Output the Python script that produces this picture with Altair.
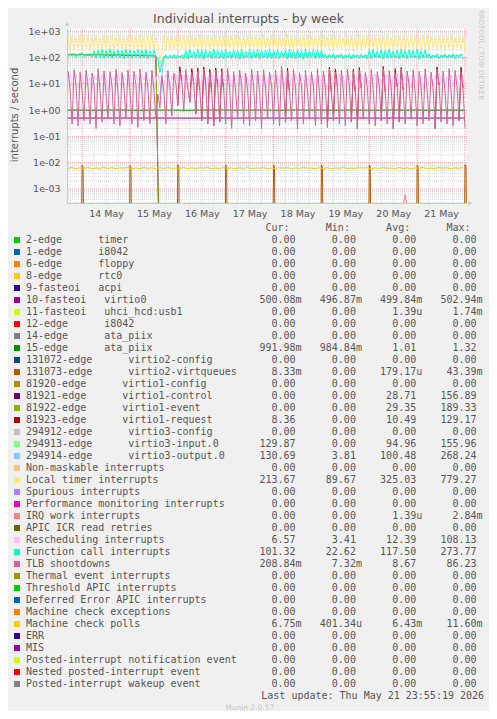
import re
import altair as alt
import pandas as pd

# ------------------------------------------------------------------ data
START = "2026-05-13 17:00"   # first hourly sample; index 46 = reboot (15 May 15:00)

# hourly series, 200 samples (13 May 17:00 .. 22 May 00:00)
local_timer = [
    620, 210, 680, 190, 590, 230, 700,
    200, 650, 220, 710, 185, 600, 240, 690, 210, 560, 195, 720, 230, 640, 205, 680, 190, 610, 250, 700, 215, 580, 200, 660,
    225, 690, 190, 620, 235, 740, 205, 600, 180, 670, 220, 710, 195, 590, 400, 90, 150, 700, 185, 630, 225, 680, 200, 610,
    230, 660, 205, 720, 190, 640, 215, 690, 240, 600, 200, 750, 185, 620, 225, 680, 210, 590, 245, 700, 195, 640, 220, 670,
    205, 610, 235, 690, 190, 730, 215, 650, 200, 600, 240, 680, 185, 710, 225, 620, 210, 660, 195, 740, 230, 590, 205, 700,
    220, 640, 190, 700, 235, 610, 205, 760, 215, 630, 180, 690, 245, 600, 210, 670, 195, 720, 225, 650, 200, 610, 240, 680,
    195, 720, 230, 600, 210, 690, 185, 640, 225, 710, 200, 580, 240, 660, 215, 700, 190, 630, 220, 750, 205, 620, 235, 670,
    210, 650, 240, 700, 195, 610, 225, 680, 185, 730, 215, 600, 200, 690, 235, 640, 210, 710, 190, 620, 245, 660, 205, 700,
    230, 600, 200, 680, 215, 720, 190, 640, 240, 610, 205, 700, 220, 660, 185, 630, 225, 740, 210, 590, 235, 680, 200, 650,
    214,
]
function_call = [
    108, 145, 112, 150, 104, 138, 110,
    152, 106, 140, 114, 148, 102, 180, 95, 195, 100, 205, 92, 188, 98, 210, 94, 185, 103, 200, 96, 192, 90, 206, 99,
    198, 93, 186, 101, 208, 95, 190, 97, 202, 91, 184, 104, 196, 99, 100, 27, 60, 95, 128, 92, 125, 98, 132, 90,
    122, 96, 130, 93, 185, 88, 200, 101, 176, 94, 205, 97, 190, 86, 198, 103, 182, 92, 210, 99, 188, 95, 196, 90,
    204, 98, 180, 93, 195, 101, 188, 87, 207, 96, 175, 104, 199, 92, 190, 97, 203, 89, 185, 100, 196, 94, 208, 91,
    187, 99, 201, 95, 178, 102, 194, 88, 209, 97, 183, 93, 198, 100, 190, 86, 205, 96, 181, 103, 197, 92, 200, 95,
    185, 98, 140, 92, 132, 96, 145, 90, 128, 99, 138, 94, 130, 97, 143, 91, 135, 100, 127, 93, 141, 96, 133, 89,
    195, 94, 206, 101, 183, 97, 200, 90, 188, 103, 210, 95, 179, 99, 197, 92, 204, 98, 186, 93, 199, 100, 191, 96,
    207, 89, 184, 102, 195, 97, 136, 94, 130, 99, 142, 92, 127, 98, 138, 95, 133, 100, 140, 91, 129, 97, 135, 93,
    101,
]
tlb_shootdowns = [
    30, 6, 0.3, 35, 8, 0.25, 28,
    5, 0.4, 33, 7, 0.3, 26, 9, 0.2, 38, 6, 0.35, 31, 4, 0.5, 29, 8, 0.3, 36, 5, 0.25, 27, 7, 0.45, 34,
    6, 0.3, 30, 9, 0.22, 37, 5, 0.4, 28, 7, 0.3, 33, 6, 0.5, 4, 1.2, 20, 5, 0.3, 32, 8, 0.6, 26, 10,
    1.5, 30, 12, 0.9, 35, 7, 2, 28, 10, 0.7, 31, 6, 0.4, 36, 9, 0.3, 27, 5, 0.25, 33, 8, 0.35, 30, 6,
    0.3, 38, 7, 0.2, 29, 5, 0.45, 34, 9, 0.3, 26, 6, 0.25, 37, 8, 0.4, 31, 5, 0.2, 35, 7, 0.5, 28, 9,
    0.3, 33, 6, 0.25, 48, 8, 0.35, 30, 5, 0.4, 36, 7, 0.2, 27, 9, 0.3, 34, 6, 0.45, 29, 8, 0.25, 38, 5,
    0.3, 31, 7, 0.22, 36, 5, 0.4, 28, 8, 0.3, 33, 6, 0.25, 37, 9, 0.35, 30, 5, 0.2, 34, 7, 0.45, 27, 8,
    0.3, 35, 6, 0.25, 29, 9, 0.4, 38, 5, 0.3, 32, 7, 0.2, 26, 8, 0.35, 36, 6, 0.3, 31, 9, 0.45, 34, 5,
    0.25, 30, 8, 0.3, 37, 6, 0.4, 28, 7, 0.2, 35, 9, 0.35, 31, 5, 0.3, 38, 6, 0.25, 33, 8, 0.4, 29, 7,
    0.21,
]
rescheduling = [
    12, 22, 8, 18, 25, 7, 15,
    20, 9, 24, 11, 17, 6, 21, 14, 19, 8, 23, 10, 16, 5, 22, 13, 18, 9, 25, 12, 7, 20, 15, 10,
    24, 8, 17, 22, 11, 6, 19, 14, 23, 9, 16, 21, 7, 13, 25, 10, 18, 8, 22, 15, 6, 20, 12, 24,
    9, 17, 11, 23, 7, 19, 14, 21, 10, 16, 25, 8, 13, 22, 6, 18, 11, 24, 9, 15, 20, 7, 23, 12,
    17, 10, 21, 8, 19, 14, 22, 9, 16, 25, 11, 18, 7, 20, 13, 24, 10, 17, 12, 21, 6, 19, 9, 23,
    14, 8, 20, 11, 25, 7, 16, 22, 10, 18, 6, 24, 13, 9, 21, 15, 8, 19, 12, 23, 7, 17, 11, 20,
    9, 24, 14, 6, 18, 21, 10, 16, 8, 25, 12, 19, 7, 22, 15, 9, 20, 11, 17, 6, 23, 13, 10, 18,
    8, 21, 15, 24, 7, 17, 12, 20, 9, 23, 14, 6, 19, 11, 25, 10, 16, 8, 22, 13, 18, 7, 24, 12,
    15, 9, 20, 6, 23, 11, 18, 14, 8, 21, 10, 25, 12, 17, 7, 19, 13, 22, 9, 16, 11, 24, 8, 18,
    6.57,
]

# 2-hourly series from START
machine_check_polls = [
    0.0061, 0.0066, 0.0059, 0.0064, 0.0060, 0.0067, 0.0058, 0.0063, 0.0061, 0.0066,
    0.0060, 0.0065, 0.0059, 0.0064, 0.0062, 0.0067, 0.0058, 0.0063, 0.0060, 0.0066,
    0.0061, 0.0064, 0.0059, 0.0065, 0.0060, 0.0067, 0.0058, 0.0063, 0.0061, 0.0066,
    0.0059, 0.0064, 0.0060, 0.0065, 0.0062, 0.0067, 0.0058, 0.0064, 0.0060, 0.0066,
    0.0061, 0.0063, 0.0059, 0.0065, 0.0060, 0.0067, 0.0058, 0.0064, 0.0061, 0.0066,
    0.0059, 0.0063, 0.0060, 0.0065, 0.0062, 0.0066, 0.0058, 0.0064, 0.0060, 0.0067,
    0.0061, 0.0063, 0.0059, 0.0065, 0.0060, 0.0066, 0.0058, 0.0064, 0.0061, 0.0067,
    0.0059, 0.0063, 0.0060, 0.0066, 0.0062, 0.0065, 0.0058, 0.0064, 0.0060, 0.0067,
    0.0061, 0.0063, 0.0059, 0.0066, 0.0060, 0.0065, 0.0058, 0.0064, 0.0061, 0.0067,
    0.0059, 0.0063, 0.0060, 0.0066, 0.0062, 0.0065, 0.0058, 0.0064, 0.0061, 0.00675,
]
# before the reboot (every 2 h from START, last value at the reboot hour)
virtio1_control = [128, 131, 126, 133, 129, 124, 130, 127, 132, 125, 128, 122,
                   126, 129, 121, 124, 120, 123, 118, 121, 117, 119, 115, 0]
virtio1_event = [132, 135, 130, 137, 133, 128, 134, 131, 136, 129, 132, 126,
                 130, 133, 125, 128, 124, 127, 122, 125, 121, 123, 119, 0]
# after the reboot (every 2 h from the reboot hour)
virtio3_input = [
    60, 105, 98, 112, 120, 101, 95, 118, 108, 125, 99, 113, 104, 121, 97, 110, 116, 102, 123, 96,
    109, 119, 100, 114, 106, 124, 98, 111, 117, 103, 95, 120, 107, 122, 101, 112, 99, 115, 126, 104,
    97, 118, 110, 121, 100, 113, 96, 119, 105, 124, 102, 116, 98, 111, 123, 107, 94, 117, 109, 120,
    103, 114, 99, 125, 106, 112, 97, 121, 108, 118, 101, 115, 104, 122, 110, 127, 130,
]
virtio3_output = [
    3.8, 112, 104, 96, 118, 109, 122, 100, 115, 98, 126, 107, 119, 103, 111, 97, 124, 106, 113, 101,
    120, 95, 117, 108, 125, 99, 114, 105, 121, 97, 110, 123, 102, 116, 96, 119, 107, 127, 100, 113,
    104, 122, 98, 115, 109, 126, 101, 118, 95, 112, 120, 103, 124, 99, 114, 106, 121, 97, 117, 110,
    102, 125, 96, 113, 108, 119, 100, 123, 105, 116, 98, 121, 111, 103, 126, 115, 131,
]
# 6-hourly from START, plus the last sample
ata_piix_15 = [1.00, 1.01, 0.99, 1.00, 1.02, 1.00, 0.99, 1.01, 1.01, 1.00, 0.99, 1.01,
               1.00, 1.02, 0.99, 1.00, 1.01, 1.00, 0.99, 1.02, 1.00, 1.01, 0.99, 1.00,
               1.01, 1.00, 0.99, 1.02, 1.00, 1.01, 0.99, 1.00, 1.01, 1.00, 0.99]
virtio0_10 = [0.500, 0.501, 0.499, 0.500, 0.502, 0.500, 0.499, 0.501, 0.500, 0.500, 0.498, 0.501,
              0.500, 0.502, 0.499, 0.500, 0.501, 0.500, 0.499, 0.502, 0.500, 0.501, 0.499, 0.500,
              0.501, 0.500, 0.499, 0.502, 0.500, 0.501, 0.499, 0.500, 0.501, 0.500, 0.500]
# virtio1-request: visible peaks above the TLB strokes (hour index, value)
red_peak_hours = [56, 62, 65, 68, 71, 74, 77, 110, 131, 134, 143, 146, 158, 164, 167, 185, 197]
red_peak_values = [45, 38, 40, 44, 36, 40, 38, 40, 44, 37, 36, 42, 46, 38, 42, 44, 43]
# virtio2-virtqueues: daily spikes at midnight
virtq_days = ["2026-05-14", "2026-05-15", "2026-05-16", "2026-05-17", "2026-05-18",
              "2026-05-19", "2026-05-20", "2026-05-21", "2026-05-22"]
virtq_peak = [0.0080, 0.0078, 0.0082, 0.0080, 0.0079, 0.0081, 0.0080, 0.0078, 0.0083]
virtq_next = [0.0070, 0.0068, 0.0072, 0.0071, 0.0069, 0.0070, 0.0072, 0.0069, 0.0070]
# IRQ work spike and uhci spike
irq_work_times = ["2026-05-20 17:00", "2026-05-20 18:00", "2026-05-20 19:00"]
irq_work_values = [0.00022, 0.0006, 0.00022]
usb_times = ["2026-05-15 14:00", "2026-05-15 14:30", "2026-05-15 15:00"]
usb_values = [0, 0.0011, 0]

# legend
legend_labels = [
    "2-edge      timer", "1-edge      i8042", "6-edge      floppy", "8-edge      rtc0",
    "9-fasteoi   acpi", "10-fasteoi   virtio0", "11-fasteoi   uhci_hcd:usb1",
    "12-edge      i8042", "14-edge      ata_piix", "15-edge      ata_piix",
    "131072-edge      virtio2-config", "131073-edge      virtio2-virtqueues",
    "81920-edge      virtio1-config", "81921-edge      virtio1-control",
    "81922-edge      virtio1-event", "81923-edge      virtio1-request",
    "294912-edge      virtio3-config", "294913-edge      virtio3-input.0",
    "294914-edge      virtio3-output.0", "Non-maskable interrupts", "Local timer interrupts",
    "Spurious interrupts", "Performance monitoring interrupts", "IRQ work interrupts",
    "APIC ICR read retries", "Rescheduling interrupts", "Function call interrupts",
    "TLB shootdowns", "Thermal event interrupts", "Threshold APIC interrupts",
    "Deferred Error APIC interrupts", "Machine check exceptions", "Machine check polls",
    "ERR", "MIS", "Posted-interrupt notification event", "Nested posted-interrupt event",
    "Posted-interrupt wakeup event",
]
legend_colors = [
    "#00CC00", "#0066B3", "#FF8000", "#FFCC00", "#330099", "#990099", "#CCFF00", "#FF0000",
    "#808080", "#008F00", "#00487D", "#B35A00", "#B38F00", "#6B006B", "#8FB300", "#B30000",
    "#BEBEBE", "#80FF80", "#80C9FF", "#FFC080", "#FFE680", "#AA80FF", "#EE00CC", "#FF8080",
    "#666600", "#FFBFFF", "#00FFCC", "#CC6699", "#999900", "#00CC00", "#0066B3", "#FF8000",
    "#FFCC00", "#330099", "#990099", "#CCFF00", "#FF0000", "#808080",
]
Z = "0.00"
cur_vals = [Z, Z, Z, Z, Z, "500.08m", Z, Z, Z, "991.98m", Z, "8.33m", Z, Z, Z, "8.36", Z,
            "129.87", "130.69", Z, "213.67", Z, Z, Z, Z, "6.57", "101.32", "208.84m", Z, Z, Z,
            Z, "6.75m", Z, Z, Z, Z, Z]
min_vals = [Z, Z, Z, Z, Z, "496.87m", Z, Z, Z, "984.84m", Z, Z, Z, Z, Z, Z, Z,
            Z, "3.81", Z, "89.67", Z, Z, Z, Z, "3.41", "22.62", "7.32m", Z, Z, Z,
            Z, "401.34u", Z, Z, Z, Z, Z]
avg_vals = [Z, Z, Z, Z, Z, "499.84m", "1.39u", Z, Z, "1.01", Z, "179.17u", Z, "28.71", "29.35",
            "10.49", Z, "94.96", "100.48", Z, "325.03", Z, Z, "1.39u", Z, "12.39", "117.50",
            "8.67", Z, Z, Z, Z, "6.43m", Z, Z, Z, Z, Z]
max_vals = [Z, Z, Z, Z, Z, "502.94m", "1.74m", Z, Z, "1.32", Z, "43.39m", Z, "156.89", "189.33",
            "129.17", Z, "155.96", "268.24", Z, "779.27", Z, Z, "2.84m", Z, "108.13", "273.77",
            "86.23", Z, Z, Z, Z, "11.60m", Z, Z, Z, Z, Z]

TITLE = "Individual interrupts - by week"
Y_TITLE = "interrupts / second"
SIDE = "RRDTOOL / TOBI OETIKER"
LAST_UPDATE = "Last update: Thu May 21 23:55:19 2026"
FOOTER = "Munin 2.0.57"

# ------------------------------------------------------------------ frames
hours = pd.date_range(START, periods=200, freq="h")
FLOOR = 1e-7   # zero is drawn below the log axis (clipped)


def frame(times, vals):
    return pd.DataFrame({"t": list(times), "v": [v if v > 0 else FLOOR for v in vals]})


def idx_frame(idx, vals):
    return frame([hours[i] for i in idx], vals)


df_timer = idx_frame(range(200), local_timer)
df_func = idx_frame(range(200), function_call)
df_tlb = idx_frame(range(200), tlb_shootdowns)
df_resched = idx_frame(range(200), rescheduling)
df_mcp = idx_frame(range(0, 200, 2), machine_check_polls)
pre_idx = list(range(0, 46, 2)) + [46]
df_v1c = idx_frame(pre_idx, virtio1_control)
df_v1e = idx_frame(pre_idx, virtio1_event)
df_v3i = idx_frame(range(46, 200, 2), virtio3_input)
df_v3o = idx_frame(range(46, 200, 2), virtio3_output)
six_idx = list(range(0, 200, 6)) + [199]
df_ata = idx_frame(six_idx, ata_piix_15)
df_v0 = idx_frame(six_idx, virtio0_10)

red_rows = []
for k, (h, v) in enumerate(zip(red_peak_hours, red_peak_values)):
    for hh, vv in ((h - 1, tlb_shootdowns[h - 1]), (h, v), (h + 1, tlb_shootdowns[h + 1])):
        red_rows.append({"t": hours[hh], "v": vv, "seg": k})
df_red = pd.DataFrame(red_rows)

vq_t, vq_v = [], []
for d, a, b in zip(virtq_days, virtq_peak, virtq_next):
    d0 = pd.Timestamp(d)
    vq_t += [d0 - pd.Timedelta("30min"), d0, d0 + pd.Timedelta("30min"), d0 + pd.Timedelta("60min")]
    vq_v += [0, a, b, 0]
df_vq = frame(vq_t, vq_v)
df_irq = frame(pd.to_datetime(irq_work_times), irq_work_values)
df_usb = frame(pd.to_datetime(usb_times), usb_values)

# ------------------------------------------------------------------ scales
X0 = alt.DateTime(year=2026, month=5, date=13, hours=16, minutes=26)
X1 = alt.DateTime(year=2026, month=5, date=22, hours=1)
xs = alt.Scale(domain=[X0, X1], nice=False)
YMIN, YMAX = 2.91e-4, 1346
ys = alt.Scale(type="log", domain=[YMIN, YMAX], nice=False)

AXIS_C = "#c4c4e8"
TXT = "#555555"
MINOR = "#d8d8d8"
MAJOR = "#f2a8a8"


def line(df, color, detail=None):
    enc = dict(x=alt.X("t:T", scale=xs, axis=None), y=alt.Y("v:Q", scale=ys, axis=None))
    if detail:
        enc["detail"] = alt.Detail(detail)
    return alt.Chart(df).mark_line(color=color, strokeWidth=1, clip=True).encode(**enc)


# grid
y_minor = [k * 10.0 ** d for d in range(-4, 4) for k in range(2, 10) if YMIN <= k * 10.0 ** d <= YMAX]
y_major = [10.0 ** d for d in range(-3, 4)]
x_all = pd.date_range("2026-05-13 18:00", "2026-05-22 00:00", freq="6h")
x_major = [t for t in x_all if t.hour == 0]
x_minor = [t for t in x_all if t.hour != 0]
x_labels = [alt.DateTime(year=2026, month=5, date=d, hours=12) for d in range(14, 22)]

grid_y_minor = alt.Chart(pd.DataFrame({"v": y_minor})).mark_rule(
    color=MINOR, strokeDash=[1, 1], strokeWidth=1).encode(y=alt.Y("v:Q", scale=ys, axis=None))
grid_x_minor = alt.Chart(pd.DataFrame({"t": x_minor})).mark_rule(
    color=MINOR, strokeDash=[1, 1], strokeWidth=1).encode(x=alt.X("t:T", scale=xs, axis=None))
grid_y_major = alt.Chart(pd.DataFrame({"v": y_major})).mark_rule(
    color=MAJOR, strokeDash=[1, 1], strokeWidth=1).encode(
    y=alt.Y("v:Q", scale=ys, axis=alt.Axis(
        values=y_major, title=None, grid=False, ticks=False, domain=True, domainColor=AXIS_C,
        labelExpr="(datum.value >= 1 ? '1e+0' : '1e-0') + round(abs(log(datum.value) / LN10))",
        labelFont="DejaVu Sans", labelFontSize=9.5, labelColor=TXT, labelPadding=7)))
grid_x_major = alt.Chart(pd.DataFrame({"t": x_major})).mark_rule(
    color=MAJOR, strokeDash=[1, 1], strokeWidth=1).encode(
    x=alt.X("t:T", scale=xs, axis=alt.Axis(
        values=x_labels, format="%d %b", title=None, grid=False, ticks=False, domain=True,
        domainColor=AXIS_C, labelFont="DejaVu Sans", labelFontSize=9.5, labelColor=TXT,
        labelPadding=5, labelAngle=0)))

series_layers = [
    line(df_v0, "#990099"),
    line(df_usb, "#CCFF00"),
    line(df_ata, "#008F00"),
    line(df_vq, "#B35A00"),
    line(df_v1c, "#6B006B"),
    line(df_v1e, "#8FB300"),
    line(df_red, "#B30000", detail="seg:N"),
    line(df_v3i, "#80FF80"),
    line(df_v3o, "#80C9FF"),
    line(df_timer, "#FFE680"),
    line(df_irq, "#FF8080"),
    line(df_resched, "#FFBFFF"),
    line(df_func, "#00FFCC"),
    line(df_tlb, "#CC6699"),
    line(df_mcp, "#FFCC00"),
]

# ------------------------------------------------------------------ legend table
PL, PT = 67, 28            # page position of the plot origin
ADV = 6.02                 # monospace advance
COL0 = [259.5, 319.8, 380.1, 440.4]
rows = []
for i, lab in enumerate(legend_labels):
    m = re.search(r"\s{2,}", lab)
    if m:
        n1, n2, off = lab[:m.start()], lab[m.end():], m.end()
    else:
        n1, n2, off = lab, "", 0
    r = {"ly": 240 - PT + 12 * i, "n1": n1, "n2": n2, "n2x": 26 - PL + ADV * off,
         "color": legend_colors[i]}
    for c, (key, vals) in enumerate((("cur", cur_vals), ("mn", min_vals), ("avg", avg_vals), ("mx", max_vals))):
        s = vals[i]
        r[key] = s
        r[key + "x"] = COL0[c] - PL + (7 if s[-1].isalpha() else 6) * ADV
    rows.append(r)
leg = pd.DataFrame(rows)
MONO = "DejaVu Sans Mono"

ly = alt.Y("ly:Q", scale=None, axis=None)
legend_layers = [
    alt.Chart(leg).mark_square(size=36, opacity=1).encode(
        x=alt.value(17 - PL), y=ly, color=alt.Color("color:N", scale=None)),
    alt.Chart(leg).mark_text(align="left", baseline="middle", font=MONO, fontSize=10, color=TXT).encode(
        x=alt.value(26 - PL), y=ly, text="n1:N"),
    alt.Chart(leg).mark_text(align="left", baseline="middle", font=MONO, fontSize=10, color=TXT).encode(
        x=alt.X("n2x:Q", scale=None, axis=None), y=ly, text="n2:N"),
]
for key in ("cur", "mn", "avg", "mx"):
    legend_layers.append(
        alt.Chart(leg).mark_text(align="right", baseline="middle", font=MONO, fontSize=10, color=TXT).encode(
            x=alt.X(key + "x:Q", scale=None, axis=None), y=ly, text=key + ":N"))

head = pd.DataFrame({"h": ["Cur:", "Min:", "Avg:", "Max:"],
                     "hx": [c + ADV - PL for c in COL0], "hy": [228 - PT] * 4})
legend_layers.append(
    alt.Chart(head).mark_text(align="left", baseline="middle", font=MONO, fontSize=10, color=TXT).encode(
        x=alt.X("hx:Q", scale=None, axis=None), y=alt.Y("hy:Q", scale=None, axis=None), text="h:N"))


def label(txt, x, y, **kw):
    return alt.Chart(pd.DataFrame({"s": [txt]})).mark_text(**kw).encode(
        x=alt.value(x), y=alt.value(y), text="s:N")


misc = [
    label(TITLE, 248.5 - PL, 19 - PT, font="DejaVu Sans", fontSize=12.5, color=TXT,
          align="center", baseline="middle"),
    label(Y_TITLE, 14.5 - PL, 115 - PT, font="DejaVu Sans", fontSize=10, color=TXT, angle=270,
          align="center", baseline="middle"),
    label(SIDE, 481 - PL, 10 - PT, font="DejaVu Sans", fontSize=7, color="#c8c8c8", angle=90,
          align="left", baseline="middle"),
    label(LAST_UPDATE, 261.3 - PL, 696 - PT, font=MONO, fontSize=10, color=TXT,
          align="left", baseline="middle"),
    label(FOOTER, 249.7 - PL, 708 - PT, font="DejaVu Sans", fontSize=7.5, color="#c4c4c4",
          align="center", baseline="middle"),
    alt.Chart(pd.DataFrame({"a": [0]})).mark_point(shape="triangle-up", filled=True, size=16,
                                                   color=AXIS_C, opacity=1).encode(
        x=alt.value(0), y=alt.value(-4)),
    alt.Chart(pd.DataFrame({"a": [0]})).mark_point(shape="triangle-right", filled=True, size=16,
                                                   color=AXIS_C, opacity=1).encode(
        x=alt.value(403.5), y=alt.value(175)),
]

chart = alt.layer(
    grid_y_minor, grid_x_minor, grid_y_major, grid_x_major,
    *series_layers, *legend_layers, *misc,
).resolve_scale(x="independent", y="independent").properties(
    width=400, height=175,
    padding={"left": 59, "top": 20, "right": 22, "bottom": 508},
    autosize=alt.AutoSizeParams(type="none"),
    background="#f0f0f0",
).configure_view(stroke=None, fill="white")

chart.save("out.html", embed_options={"renderer": "svg", "actions": False})
